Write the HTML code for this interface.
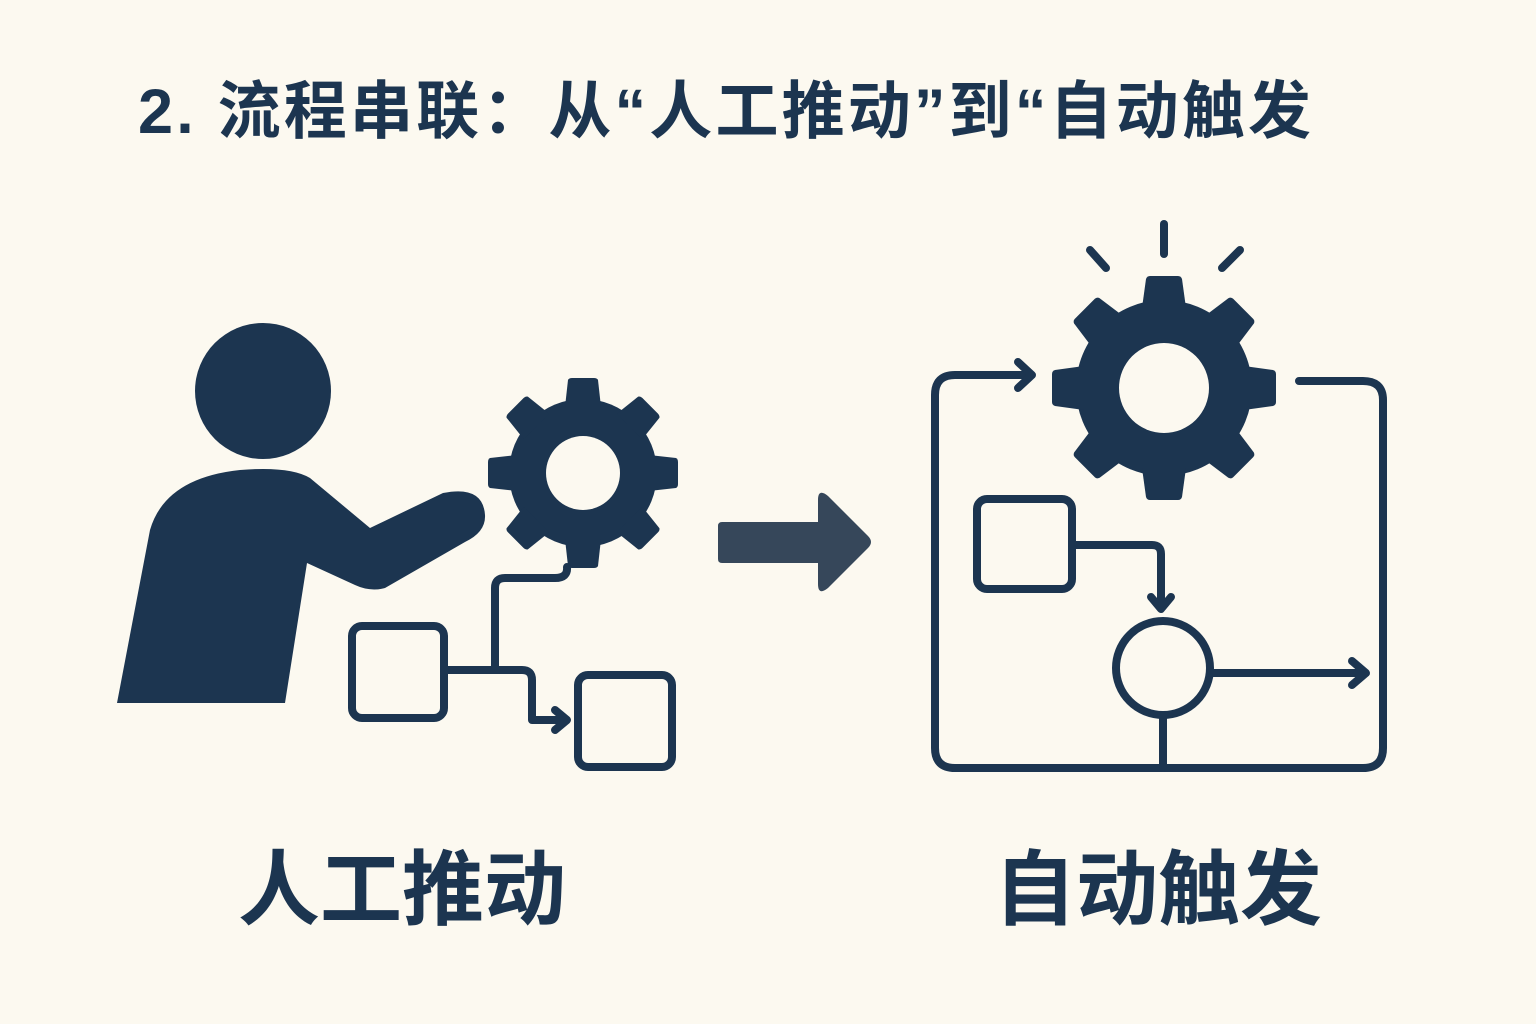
<!DOCTYPE html>
<html><head><meta charset="utf-8"><style>
html,body{margin:0;padding:0;background:#fcf9f0;}
svg{display:block}
text{font-family:"Liberation Sans","Noto Sans CJK SC",sans-serif;fill:#1c3550;}
</style></head><body>
<svg width="1536" height="1024" viewBox="0 0 1536 1024" xmlns="http://www.w3.org/2000/svg">
<rect width="1536" height="1024" fill="#fcf9f0"/>
<text x="138" y="133" font-size="63" font-weight="bold" letter-spacing="7" textLength="1180" lengthAdjust="spacing">2. 流程串联：从“人工推动”到“自动触发</text>

<g fill="#1c3550">
<circle cx="263" cy="391" r="68"/>
<path d="M117,703 L150,530 Q165,478 240,470 Q290,466 310,478 L370,528 L443,493 Q483,485 485,515 Q486,532 465,542 L385,588 Q370,592 355,585 L307,563 L285,703 Z"/>
</g>

<g transform="translate(583,473)" fill="#1c3550">
<circle r="74"/>
<g id="t1"><path d="M-18,-66 L-15,-93 Q-14,-95 -11,-95 L11,-95 Q14,-95 15,-93 L18,-66 Z"/></g>
<use href="#t1" transform="rotate(45)"/><use href="#t1" transform="rotate(90)"/><use href="#t1" transform="rotate(135)"/>
<use href="#t1" transform="rotate(180)"/><use href="#t1" transform="rotate(225)"/><use href="#t1" transform="rotate(270)"/><use href="#t1" transform="rotate(315)"/>
<circle r="37" fill="#fcf9f0"/>
</g>

<g fill="none" stroke="#1c3550" stroke-width="8" stroke-linecap="round" stroke-linejoin="round">
<path d="M567,567 Q568,578 555,578 L505,578 Q495,578 495,588 L495,670"/>
<rect x="352" y="626" width="92" height="92" rx="10"/>
<path d="M444,670 L522,670 Q532,670 532,680 L532,720 L566,720"/>
<path d="M555,710 L567,720 L555,730"/>
<rect x="578" y="675" width="94" height="92" rx="10"/>
</g>

<path d="M722,522 L818,522 L818,500 Q818,488 828,496 L868,536 Q874,542 868,548 L828,588 Q818,596 818,584 L818,563 L722,563 Q718,563 718,559 L718,526 Q718,522 722,522 Z" fill="#36475a"/>

<g fill="none" stroke="#1c3550" stroke-width="8" stroke-linecap="round" stroke-linejoin="round">
<path d="M1030,375 L955,375 Q935,375 935,395 L935,748 Q935,768 955,768 L1363,768 Q1383,768 1383,748 L1383,400 Q1383,381 1363,381 L1299,381"/>
<path d="M1018,362 L1032,375 L1018,388"/>
<rect x="977" y="499" width="95" height="90" rx="10"/>
<path d="M1072,545 L1152,545 Q1161,545 1161,554 L1161,608"/>
<path d="M1151,597 L1161,609 L1171,597"/>
<circle cx="1163" cy="668" r="47"/>
<path d="M1210,673 L1364,673"/>
<path d="M1352,661 L1366,673 L1352,685"/>
<path d="M1163,715 L1163,768"/>
<path d="M1164,224 L1164,254"/>
<path d="M1090,250 L1106,268"/>
<path d="M1240,250 L1222,268"/>
</g>

<g transform="translate(1164,388)" fill="#1c3550">
<circle r="88"/>
<g id="t2"><path d="M-22,-80 L-18,-109 Q-17,-112 -14,-112 L14,-112 Q17,-112 18,-109 L22,-80 Z"/></g>
<use href="#t2" transform="rotate(45)"/><use href="#t2" transform="rotate(90)"/><use href="#t2" transform="rotate(135)"/>
<use href="#t2" transform="rotate(180)"/><use href="#t2" transform="rotate(225)"/><use href="#t2" transform="rotate(270)"/><use href="#t2" transform="rotate(315)"/>
<circle r="45" fill="#fcf9f0"/>
</g>

<text x="402" y="918" font-size="82" font-weight="bold" text-anchor="middle">人工推动</text>
<text x="1158" y="918" font-size="82" font-weight="bold" text-anchor="middle">自动触发</text>
</svg>
</body></html>
